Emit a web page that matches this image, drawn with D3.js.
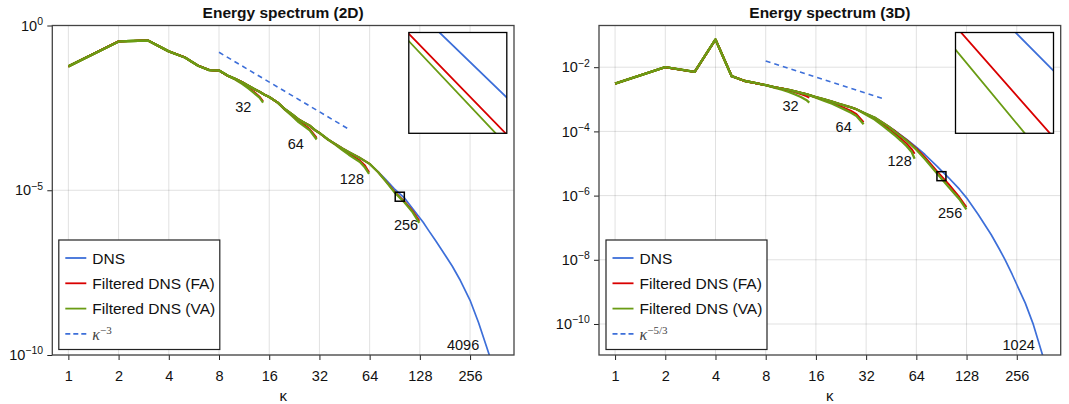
<!DOCTYPE html>
<html>
<head>
<meta charset="utf-8">
<script src="https://cdn.jsdelivr.net/npm/d3@7"></script>
<style>
  body { margin: 0; background: #fff; }
  svg { display: block; font-family: "Liberation Sans", Arial, Helvetica, sans-serif; }
</style>
</head>
<body>
<svg id="chart" width="1069" height="404"></svg>
<script>
// ---- data (log10 E) ----
const xTicks = [1, 2, 4, 8, 16, 32, 64, 128, 256];
const yTicks2d = [-10, -5, 0];
const yTicks3d = [-10, -8, -6, -4, -2];
const filterSizes = [32, 64, 128, 256];

// 2D
const k2d = [1, 2, 3, 4, 5, 6, 7, 8, 9, 10, 11, 12, 13, 14, 15, 16, 18, 20, 22, 24, 26, 28, 30, 32,
  36, 40, 44, 48, 56, 64, 72, 80, 90, 104, 116, 128, 134, 144, 160, 180, 200, 224, 256, 288, 320, 360];
const dns2d = [-1.24, -0.483, -0.455, -0.785, -0.97, -1.22, -1.355, -1.365, -1.52, -1.62, -1.72, -1.83,
  -1.93, -2.01, -2.10, -2.17, -2.34, -2.55, -2.70, -2.85, -2.95, -3.04, -3.17, -3.26,
  -3.46, -3.60, -3.73, -3.84, -4.02, -4.20, -4.44, -4.68, -4.955, -5.25, -5.56, -5.84, -5.97,
  -6.21, -6.55, -6.94, -7.30, -7.74, -8.34, -9.02, -9.72, -10.5];
const tailK2d = [[10, 11, 12, 13, 14, 14.7], [20, 22, 24, 26, 28, 30.8], [40, 44, 48, 56, 60, 63.5], [72, 80, 90, 104, 116, 127]];
const fa2d = [[-1.63, -1.75, -1.89, -2.02, -2.16, -2.30], [-2.56, -2.73, -2.90, -3.02, -3.14, -3.41],
  [-3.61, -3.76, -3.89, -4.10, -4.25, -4.45], [-4.45, -4.72, -5.037, -5.351, -5.63, -5.93]];
const va2d = [[-1.64, -1.77, -1.91, -2.05, -2.19, -2.34], [-2.57, -2.75, -2.93, -3.06, -3.18, -3.46],
  [-3.62, -3.78, -3.92, -4.14, -4.31, -4.50], [-4.455, -4.73, -5.056, -5.38, -5.67, -5.99]];
const slopeK2d = [8, 48];
const slopeE2d = [-0.813, -3.147];
const labelText2d = ['32', '64', '128', '256', '4096'];
const labelK2d = [11.2, 23.1, 50.1, 105.8, 232.6];
const labelE2d = [-2.46, -3.59, -4.66, -6.05, -9.68];
const insetK2d = [91.1, 103.3];
const insetE2d = [-5.333, -5.06];

// 3D
const k3d = [1, 2, 3, 4, 5, 6, 7, 8, 9, 10, 11, 12, 13, 14, 16, 18, 20, 22, 24, 26, 28, 32, 36, 40,
  44, 48, 56, 64, 72, 85, 100, 116, 128, 150, 180, 200, 218, 240, 256, 288, 320, 367, 400];
const dns3d = [-2.51, -2.0, -2.146, -1.137, -2.28, -2.43, -2.50, -2.56, -2.62, -2.665, -2.71, -2.755,
  -2.80, -2.84, -2.93, -3.00, -3.07, -3.14, -3.20, -3.25, -3.31, -3.45, -3.57, -3.72,
  -3.86, -3.99, -4.25, -4.49, -4.72, -5.085, -5.445, -5.80, -6.07, -6.58, -7.22, -7.64, -8.0,
  -8.45, -8.77, -9.35, -9.98, -11.0, -11.8];
const tailK3d = [[9, 10, 11, 12, 13, 14, 14.6], [16, 18, 20, 22, 24, 26, 28, 30.9],
  [32, 36, 40, 44, 48, 52, 56, 60, 62.5], [48, 56, 64, 72, 85, 100, 116, 127.7]];
const fa3d = [[-2.625, -2.675, -2.725, -2.78, -2.84, -2.90, -2.95],
  [-2.94, -3.03, -3.11, -3.20, -3.28, -3.36, -3.46, -3.71],
  [-3.46, -3.60, -3.77, -3.93, -4.08, -4.23, -4.38, -4.55, -4.70],
  [-4.00, -4.27, -4.53, -4.80, -5.236, -5.64, -6.05, -6.36]];
const va3d = [[-2.64, -2.70, -2.77, -2.85, -2.93, -3.02, -3.10],
  [-2.95, -3.05, -3.14, -3.24, -3.33, -3.42, -3.52, -3.78],
  [-3.48, -3.63, -3.81, -3.98, -4.14, -4.30, -4.46, -4.64, -4.85],
  [-4.02, -4.29, -4.57, -4.86, -5.301, -5.731, -6.11, -6.43]];
const slopeK3d = [8, 40];
const slopeE3d = [-1.807, -2.972];
const labelText3d = ['32', '64', '128', '256', '1024'];
const labelK3d = [11.28, 23.46, 50.8, 102, 262.8];
const labelE3d = [-3.19, -3.87, -4.92, -6.54, -10.64];
const insetK3d = [85.05, 96.3];
const insetE3d = [-5.535, -5.255];

const legendNames = ['DNS', 'Filtered DNS (FA)', 'Filtered DNS (VA)'];

// ---- drawing ----
const col = { dns: '#3d6fd9', fa: '#d90000', va: '#6a9c14' };
const svg = d3.select('#chart');
const plotTop = 25.5, plotBottom = 355;
const xDomain = [0.801, 469.5];

const pts = (ks, es) => ks.map((k, i) => [k, Math.pow(10, es[i])]);
function filteredSeries(ks, dns, tk, te) {
  return pts(ks, dns).filter(d => d[0] < tk[0]).concat(pts(tk, te));
}

const panels = [
  { x0: 52.3, x1: 514, title: 'Energy spectrum (2D)', yDomain: [1e-10, 1], yTicks: yTicks2d,
    k: k2d, dns: dns2d, tailK: tailK2d, fa: fa2d, va: va2d, slopeK: slopeK2d, slopeE: slopeE2d,
    slopeExp: '−3', lt: labelText2d, lk: labelK2d, le: labelE2d, ik: insetK2d, ie: insetE2d, legDx: 6.5 },
  { x0: 599, x1: 1060.7, title: 'Energy spectrum (3D)', yDomain: [Math.pow(10, -10.966), Math.pow(10, -0.701)], yTicks: yTicks3d,
    k: k3d, dns: dns3d, tailK: tailK3d, fa: fa3d, va: va3d, slopeK: slopeK3d, slopeE: slopeE3d,
    slopeExp: '−5/3', lt: labelText3d, lk: labelK3d, le: labelE3d, ik: insetK3d, ie: insetE3d, legDx: 7 }
];

panels.forEach((p, pi) => {
  const g = svg.append('g');
  const x = d3.scaleLog().domain(xDomain).range([p.x0, p.x1]);
  const y = d3.scaleLog().domain(p.yDomain).range([plotBottom, plotTop]);
  const line = d3.line().x(d => x(d[0])).y(d => y(d[1]));

  // grid
  g.append('g').selectAll('line').data(xTicks).join('line')
    .attr('x1', d => x(d)).attr('x2', d => x(d)).attr('y1', plotTop).attr('y2', plotBottom)
    .attr('stroke', 'rgba(0,0,0,0.12)').attr('stroke-width', 1);
  g.append('g').selectAll('line').data(p.yTicks).join('line')
    .attr('x1', p.x0).attr('x2', p.x1).attr('y1', d => y(Math.pow(10, d))).attr('y2', d => y(Math.pow(10, d)))
    .attr('stroke', 'rgba(0,0,0,0.12)').attr('stroke-width', 1);

  // axes
  const xa = g.append('g').attr('transform', `translate(0,${plotBottom})`)
    .call(d3.axisBottom(x).tickValues(xTicks).tickFormat(d3.format('d')).tickSize(5).tickPadding(10.3));
  const ya = g.append('g').attr('transform', `translate(${p.x0},0)`)
    .call(d3.axisLeft(y).tickValues(p.yTicks.map(e => Math.pow(10, e))).tickSize(5).tickPadding(4.3).tickFormat(''));
  [xa, ya].forEach(a => {
    a.select('.domain').remove();
    a.selectAll('.tick line').attr('stroke', '#222');
    a.selectAll('.tick text').attr('fill', '#111').attr('font-size', 14.5)
      .attr('font-family', '"Liberation Sans", Arial, sans-serif');
  });
  ya.selectAll('.tick text').each(function (d) {
    const t = d3.select(this);
    t.text('10');
    const ex = Math.round(Math.log10(d));
    t.append('tspan').attr('dy', '-0.55em').attr('font-size', '0.72em')
      .text(ex < 0 ? '−' + (-ex) : String(ex));
  });

  // clip
  const cid = 'clip' + pi;
  svg.append('clipPath').attr('id', cid).append('rect')
    .attr('x', p.x0).attr('y', plotTop).attr('width', p.x1 - p.x0).attr('height', plotBottom - plotTop);
  const plot = g.append('g').attr('clip-path', `url(#${cid})`);

  // DNS first, then FA/VA per filter size (VA drawn on top)
  function drawLines(target, ln, w) {
    target.append('path').datum(pts(p.k, p.dns)).attr('d', ln)
      .attr('fill', 'none').attr('stroke', col.dns).attr('stroke-width', w[0]).attr('stroke-linejoin', 'round');
    filterSizes.forEach((n, i) => {
      target.append('path').datum(filteredSeries(p.k, p.dns, p.tailK[i], p.fa[i])).attr('d', ln)
        .attr('fill', 'none').attr('stroke', col.fa).attr('stroke-width', w[1]).attr('stroke-linejoin', 'round');
      target.append('path').datum(filteredSeries(p.k, p.dns, p.tailK[i], p.va[i])).attr('d', ln)
        .attr('fill', 'none').attr('stroke', col.va).attr('stroke-width', w[2]).attr('stroke-linejoin', 'round');
    });
  }
  drawLines(plot, line, [1.7, 1.9, 2.3]);

  // reference slope
  plot.append('path').datum(pts(p.slopeK, p.slopeE)).attr('d', line)
    .attr('fill', 'none').attr('stroke', col.dns).attr('stroke-width', 1.6).attr('stroke-dasharray', '5,4');

  // resolution labels
  plot.selectAll('text').data(p.lt).join('text')
    .attr('x', (d, i) => x(p.lk[i])).attr('y', (d, i) => y(Math.pow(10, p.le[i])))
    .attr('dy', '0.36em').attr('text-anchor', 'middle').attr('font-size', 14.5).attr('fill', '#111')
    .text(d => d);

  // zoom square
  const sx0 = x(p.ik[0]), sx1 = x(p.ik[1]);
  const sy0 = y(Math.pow(10, p.ie[1])), sy1 = y(Math.pow(10, p.ie[0]));
  g.append('rect').attr('x', sx0).attr('y', sy0).attr('width', sx1 - sx0).attr('height', sy1 - sy0)
    .attr('fill', 'none').attr('stroke', '#000').attr('stroke-width', 1.5);

  // frame
  g.append('rect').attr('x', p.x0).attr('y', plotTop).attr('width', p.x1 - p.x0).attr('height', plotBottom - plotTop)
    .attr('fill', 'none').attr('stroke', '#444').attr('stroke-width', 1.3);

  // inset
  const ix0 = p.x0 + 356.5, ix1 = p.x0 + 454.5, iy0 = 32.5, iy1 = 133.3;
  const xi = d3.scaleLog().domain(p.ik).range([ix0, ix1]);
  const yi = d3.scaleLog().domain(p.ie.map(e => Math.pow(10, e))).range([iy1, iy0]);
  const lineI = d3.line().x(d => xi(d[0])).y(d => yi(d[1]));
  g.append('rect').attr('x', ix0).attr('y', iy0).attr('width', ix1 - ix0).attr('height', iy1 - iy0).attr('fill', '#fff');
  const icid = 'iclip' + pi;
  svg.append('clipPath').attr('id', icid).append('rect')
    .attr('x', ix0).attr('y', iy0).attr('width', ix1 - ix0).attr('height', iy1 - iy0);
  drawLines(g.append('g').attr('clip-path', `url(#${icid})`), lineI, [1.8, 1.8, 1.8]);
  g.append('rect').attr('x', ix0).attr('y', iy0).attr('width', ix1 - ix0).attr('height', iy1 - iy0)
    .attr('fill', 'none').attr('stroke', '#000').attr('stroke-width', 1.3);

  // title & x label
  g.append('text').attr('x', (p.x0 + p.x1) / 2).attr('y', 17.5).attr('text-anchor', 'middle')
    .attr('font-weight', 'bold').attr('font-size', 15.5).attr('fill', '#111').text(p.title);
  g.append('text').attr('x', (p.x0 + p.x1) / 2).attr('y', 401).attr('text-anchor', 'middle')
    .attr('font-size', 15).attr('fill', '#111').text('κ');

  // legend
  const lx = p.x0 + p.legDx, ly = 240, lw = 161, lh = 109.5;
  const leg = g.append('g');
  leg.append('rect').attr('x', lx).attr('y', ly).attr('width', lw).attr('height', lh)
    .attr('fill', '#fff').attr('stroke', '#222').attr('stroke-width', 1.2);
  const rows = [col.dns, col.fa, col.va, col.dns];
  rows.forEach((c, i) => {
    const ry = ly + 18 + i * 25.3;
    leg.append('line').attr('x1', lx + 6.5).attr('x2', lx + 27.5).attr('y1', ry).attr('y2', ry)
      .attr('stroke', c).attr('stroke-width', 1.8).attr('stroke-dasharray', i === 3 ? '5,3' : null);
    if (i < 3) {
      leg.append('text').attr('x', lx + 33.5).attr('y', ry).attr('dy', '0.36em')
        .attr('font-size', 15.5).attr('fill', '#111').text(legendNames[i]);
    } else {
      const t = leg.append('text').attr('x', lx + 33.5).attr('y', ry).attr('dy', '0.36em')
        .attr('font-family', '"Liberation Serif", "DejaVu Serif", serif').attr('fill', '#444');
      t.append('tspan').attr('font-style', 'italic').attr('font-size', 16).text('κ');
      t.append('tspan').attr('dy', '-0.5em').attr('font-size', 11).text(p.slopeExp);
    }
  });
});
</script>
</body>
</html>
